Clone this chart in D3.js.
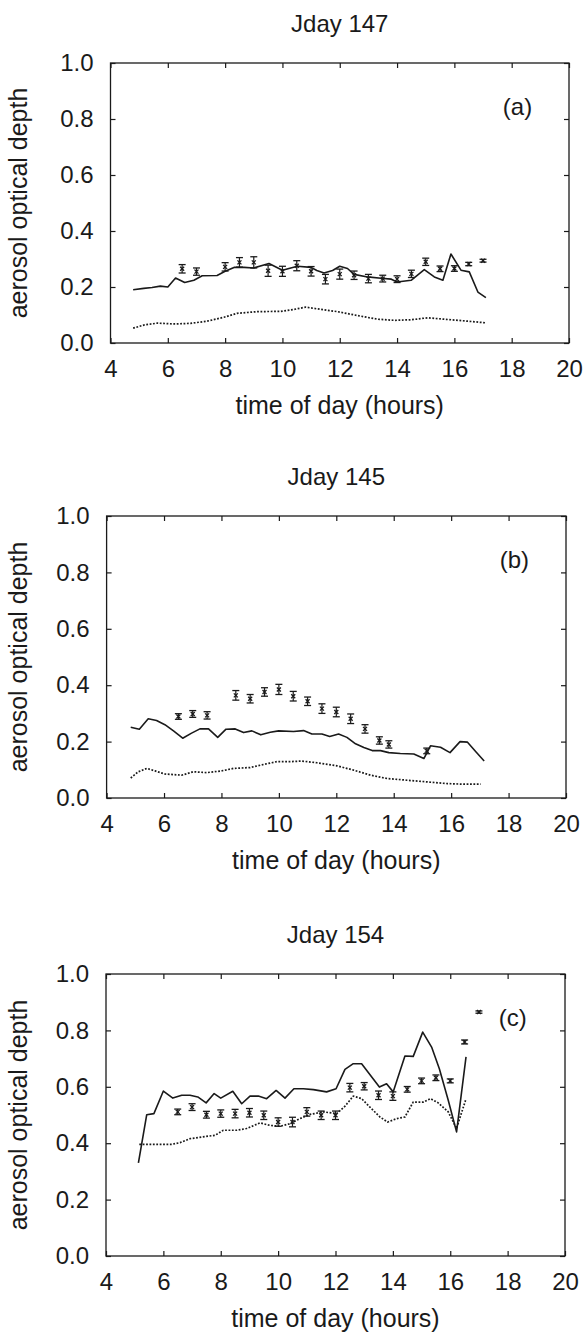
<!DOCTYPE html>
<html>
<head>
<meta charset="utf-8">
<script src="https://cdn.jsdelivr.net/npm/d3@7"></script>
<style>
  body { margin: 0; background: #fff; }
  svg text { font-family: "Liberation Sans", Arial, Helvetica, sans-serif; fill: #1a1a1a; }
</style>
</head>
<body>
<svg id="chart" width="585" height="1332"></svg>
<script>
// tick values shared by all panels
var xTicks = [4, 6, 8, 10, 12, 14, 16, 18, 20];
var yTicks = [0, 0.2, 0.4, 0.6, 0.8, 1.0];

// ---- Jday 147 (a) ----  [hour, optical depth]
var modelA = [[4.79,0.19],[5.16,0.195],[5.45,0.198],[5.74,0.203],[6.0,0.2],[6.27,0.232],[6.59,0.216],
  [6.91,0.224],[7.2,0.24],[7.72,0.241],[8.0,0.256],[8.31,0.27],[8.66,0.27],[9.0,0.268],[9.53,0.284],
  [10.0,0.26],[10.52,0.274],[11.0,0.27],[11.2,0.259],[11.45,0.25],[11.75,0.259],[12.0,0.274],
  [12.27,0.266],[12.5,0.245],[12.97,0.236],[13.44,0.231],[13.8,0.228],[14.0,0.218],[14.49,0.224],
  [14.95,0.262],[15.3,0.236],[15.6,0.224],[15.88,0.318],[16.23,0.26],[16.52,0.254],[16.82,0.182],[17.1,0.162]];
var lowerA = [[4.79,0.053],[5.16,0.064],[5.63,0.071],[6.21,0.068],[6.79,0.07],[7.37,0.078],[7.96,0.092],
  [8.42,0.106],[9.12,0.112],[9.94,0.113],[10.4,0.12],[10.81,0.128],[11.34,0.12],[11.92,0.112],
  [12.62,0.098],[13.32,0.085],[13.9,0.081],[14.49,0.083],[15.07,0.09],[15.65,0.085],[16.35,0.079],[17.1,0.072]];
var obsA = [[6.5,0.265,0.015],[7.0,0.255,0.013],[8.0,0.272,0.015],[8.5,0.288,0.017],[9.0,0.288,0.02],
  [9.5,0.258,0.02],[10.0,0.256,0.018],[10.5,0.276,0.018],[11.0,0.256,0.017],[11.5,0.228,0.017],
  [12.0,0.246,0.018],[12.5,0.242,0.015],[13.0,0.23,0.015],[13.5,0.23,0.012],[14.0,0.228,0.012],
  [14.5,0.247,0.013],[15.0,0.29,0.013],[15.5,0.265,0.01],[16.0,0.266,0.01],[16.5,0.282,0.006],[17.0,0.294,0.005]];

// ---- Jday 145 (b) ----
var modelB = [[4.84,0.251],[5.14,0.244],[5.45,0.281],[5.74,0.275],[6.03,0.26],[6.33,0.238],[6.65,0.212],
  [6.96,0.23],[7.25,0.245],[7.55,0.245],[7.87,0.215],[8.16,0.244],[8.48,0.245],[8.77,0.232],[9.06,0.238],
  [9.37,0.224],[9.7,0.233],[9.99,0.238],[10.51,0.236],[10.86,0.239],[11.15,0.227],[11.5,0.227],
  [11.77,0.218],[12.08,0.227],[12.37,0.215],[12.67,0.192],[12.96,0.179],[13.25,0.168],[13.54,0.168],
  [13.83,0.161],[14.23,0.158],[14.7,0.156],[15.05,0.14],[15.28,0.185],[15.63,0.18],[15.96,0.161],
  [16.31,0.2],[16.57,0.198],[16.86,0.164],[17.15,0.131]];
var lowerB = [[4.84,0.071],[5.1,0.093],[5.4,0.105],[5.69,0.096],[6.03,0.085],[6.62,0.081],[7.02,0.093],
  [7.49,0.09],[8.0,0.096],[8.42,0.105],[9.0,0.108],[9.52,0.12],[9.93,0.129],[10.4,0.129],[10.8,0.131],
  [11.33,0.125],[12.02,0.114],[12.6,0.099],[13.19,0.081],[13.77,0.069],[14.47,0.063],[15.17,0.057],
  [15.87,0.051],[16.45,0.049],[17.03,0.049]];
var obsB = [[6.5,0.289,0.01],[7.0,0.298,0.012],[7.5,0.293,0.013],[8.5,0.364,0.017],[9.0,0.352,0.015],
  [9.5,0.376,0.015],[10.0,0.385,0.018],[10.5,0.361,0.017],[11.0,0.343,0.015],[11.5,0.317,0.017],
  [12.0,0.305,0.017],[12.5,0.281,0.017],[13.0,0.245,0.015],[13.5,0.204,0.013],[13.83,0.19,0.013],[15.15,0.167,0.01]];

// ---- Jday 154 (c) ----
var modelC = [[5.13,0.33],[5.42,0.501],[5.67,0.505],[6.0,0.585],[6.33,0.56],[6.64,0.57],[6.93,0.57],
  [7.2,0.564],[7.49,0.543],[7.77,0.576],[8.0,0.56],[8.42,0.584],[8.73,0.54],[9.02,0.567],[9.31,0.567],
  [9.6,0.558],[9.93,0.587],[10.24,0.56],[10.55,0.593],[10.88,0.593],[11.23,0.59],[11.69,0.582],
  [12.02,0.593],[12.33,0.662],[12.62,0.682],[12.91,0.682],[13.53,0.599],[13.78,0.611],[14.01,0.582],
  [14.42,0.709],[14.71,0.708],[15.04,0.794],[15.35,0.741],[15.62,0.664],[15.93,0.552],[16.22,0.44],[16.55,0.706]];
var lowerC = [[5.16,0.396],[5.77,0.396],[6.29,0.396],[6.58,0.402],[6.93,0.416],[7.34,0.422],[7.8,0.428],
  [8.09,0.446],[8.56,0.446],[8.9,0.452],[9.37,0.472],[9.72,0.463],[10.07,0.46],[10.41,0.469],[10.76,0.487],
  [11.11,0.502],[11.57,0.511],[12.04,0.505],[12.33,0.531],[12.62,0.567],[12.91,0.558],[13.2,0.528],
  [13.55,0.493],[13.82,0.475],[14.13,0.487],[14.42,0.493],[14.71,0.546],[15.06,0.546],[15.31,0.558],
  [15.58,0.543],[15.93,0.511],[16.22,0.452],[16.55,0.558]];
var obsC = [[6.5,0.511,0.01],[7.0,0.528,0.012],[7.5,0.501,0.012],[8.0,0.505,0.013],[8.5,0.505,0.015],
  [9.0,0.508,0.015],[9.5,0.499,0.015],[10.0,0.475,0.015],[10.5,0.475,0.017],[11.0,0.511,0.015],
  [11.5,0.499,0.015],[12.0,0.499,0.015],[12.5,0.597,0.015],[13.0,0.602,0.013],[13.5,0.57,0.015],
  [14.0,0.567,0.015],[14.5,0.591,0.01],[15.0,0.621,0.01],[15.5,0.632,0.01],[16.0,0.621,0.007],
  [16.5,0.759,0.007],[17.0,0.865,0.004]];

var panels = [
  {title: "Jday 147", tag: "(a)", model: modelA, lower: lowerA, obs: obsA, left: 110.5, right: 569, top: 63, bottom: 343},
  {title: "Jday 145", tag: "(b)", model: modelB, lower: lowerB, obs: obsB, left: 106.6, right: 566, top: 516, bottom: 798},
  {title: "Jday 154", tag: "(c)", model: modelC, lower: lowerC, obs: obsC, left: 106, right: 565, top: 974, bottom: 1256}
];

var svg = d3.select("#chart");
var ink = "#1a1a1a";

function drawPanel(p) {
  var x = d3.scaleLinear().domain([4, 20]).range([p.left, p.right]);
  var y = d3.scaleLinear().domain([0, 1]).range([p.bottom, p.top]);
  var g = svg.append("g");

  // frame
  g.append("rect")
    .attr("x", p.left).attr("y", p.top)
    .attr("width", p.right - p.left).attr("height", p.bottom - p.top)
    .attr("fill", "none").attr("stroke", ink).attr("stroke-width", 1.3);

  // axes, ticks pointing inward
  var bottom = g.append("g").attr("transform", "translate(0," + p.bottom + ")")
    .call(d3.axisBottom(x).tickValues(xTicks).tickFormat(d3.format("d"))
      .tickSizeInner(-5).tickSizeOuter(0).tickPadding(17));
  var top = g.append("g").attr("transform", "translate(0," + p.top + ")")
    .call(d3.axisTop(x).tickValues(xTicks).tickFormat("")
      .tickSizeInner(-5).tickSizeOuter(0));
  var left = g.append("g").attr("transform", "translate(" + p.left + ",0)")
    .call(d3.axisLeft(y).tickValues(yTicks).tickFormat(d3.format(".1f"))
      .tickSizeInner(-5).tickSizeOuter(0).tickPadding(17));
  var right = g.append("g").attr("transform", "translate(" + p.right + ",0)")
    .call(d3.axisRight(y).tickValues(yTicks).tickFormat("")
      .tickSizeInner(-5).tickSizeOuter(0));

  [bottom, top, left, right].forEach(function(a) {
    a.select(".domain").remove();
    a.selectAll("line").attr("stroke", ink).attr("stroke-width", 1.2);
    a.selectAll("text").style("font-size", "24px").attr("fill", ink);
  });

  // dotted curve
  var line = d3.line().x(function(d) { return x(d[0]); }).y(function(d) { return y(d[1]); });
  g.append("path").datum(p.lower)
    .attr("d", line).attr("fill", "none")
    .attr("stroke", ink).attr("stroke-width", 1.7).attr("stroke-dasharray", "1.8,1.6");

  // solid curve
  g.append("path").datum(p.model)
    .attr("d", line).attr("fill", "none")
    .attr("stroke", ink).attr("stroke-width", 1.6).attr("stroke-linejoin", "round");

  // observations with error bars
  var obs = g.selectAll(".obs").data(p.obs).enter().append("g").attr("class", "obs");
  obs.append("line")
    .attr("x1", function(d) { return x(d[0]); }).attr("x2", function(d) { return x(d[0]); })
    .attr("y1", function(d) { return y(d[1] - d[2]); }).attr("y2", function(d) { return y(d[1] + d[2]); })
    .attr("stroke", ink).attr("stroke-width", 1.2);
  [-1, 1].forEach(function(s) {
    obs.append("line")
      .attr("x1", function(d) { return x(d[0]) - 3.5; }).attr("x2", function(d) { return x(d[0]) + 3.5; })
      .attr("y1", function(d) { return y(d[1] + s * d[2]); }).attr("y2", function(d) { return y(d[1] + s * d[2]); })
      .attr("stroke", ink).attr("stroke-width", 1.3);
  });
  obs.append("path")
    .attr("d", function(d) {
      var cx = x(d[0]), cy = y(d[1]);
      return "M" + (cx - 2) + "," + (cy - 2) + "L" + (cx + 2) + "," + (cy + 2) +
             "M" + (cx - 2) + "," + (cy + 2) + "L" + (cx + 2) + "," + (cy - 2);
    })
    .attr("stroke", ink).attr("stroke-width", 1.3);

  // labels
  var cx = (p.left + p.right) / 2;
  g.append("text").attr("x", cx).attr("y", p.top - 31)
    .attr("text-anchor", "middle").style("font-size", "24px").text(p.title);
  g.append("text").attr("x", cx).attr("y", p.bottom + 71)
    .attr("text-anchor", "middle").style("font-size", "25px").text("time of day (hours)");
  g.append("text")
    .attr("transform", "translate(27," + ((p.top + p.bottom) / 2) + ") rotate(-90)")
    .attr("text-anchor", "middle").style("font-size", "25px").text("aerosol optical depth");
  g.append("text").attr("x", x(17.69)).attr("y", y(0.814))
    .style("font-size", "24px").text(p.tag);
}

panels.forEach(drawPanel);
</script>
</body>
</html>
